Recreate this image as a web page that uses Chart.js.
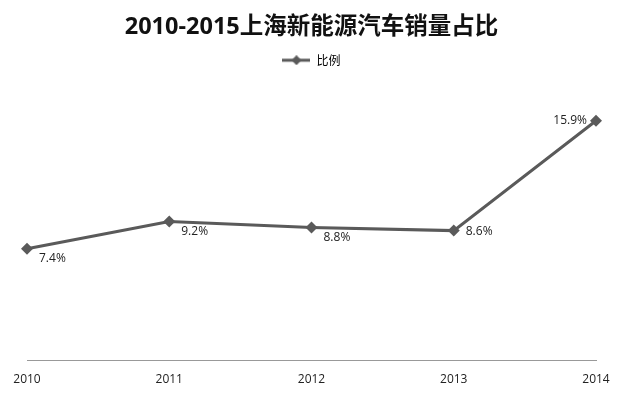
<!DOCTYPE html>
<html>
<head>
<meta charset="utf-8">
<script src="https://cdn.jsdelivr.net/npm/chart.js@4/dist/chart.umd.min.js"></script>
<style>
  html, body { margin: 0; padding: 0; background: #fff; }
  #wrap { width: 624px; height: 393px; }
</style>
</head>
<body>
<div id="wrap"><canvas id="c" width="624" height="393"></canvas></div>
<script>
const years = ["2010", "2011", "2012", "2013", "2014"];
const share = [7.4, 9.2, 8.8, 8.6, 15.9];
const seriesName = "比例";
const titleText = "2010-2015上海新能源汽车销量占比";

const lineColor = "#5a5a5a";

// legend marker: short line with a diamond in the middle
const legendIcon = document.createElement("canvas");
legendIcon.width = 28;
legendIcon.height = 10;
const ic = legendIcon.getContext("2d");
ic.strokeStyle = lineColor;
ic.lineWidth = 3;
ic.beginPath();
ic.moveTo(0, 5);
ic.lineTo(28, 5);
ic.stroke();
ic.fillStyle = lineColor;
ic.beginPath();
ic.moveTo(14, 0);
ic.lineTo(19, 5);
ic.lineTo(14, 10);
ic.lineTo(9, 5);
ic.closePath();
ic.fill();

// value labels next to each point
const valueLabels = {
  id: "valueLabels",
  afterDatasetsDraw(chart) {
    const ctx = chart.ctx;
    const meta = chart.getDatasetMeta(0);
    const vals = chart.data.datasets[0].data;
    ctx.save();
    ctx.font = "12px 'Open Sans', sans-serif";
    ctx.fillStyle = "#222";
    ctx.textBaseline = "middle";
    meta.data.forEach((pt, i) => {
      const txt = vals[i].toFixed(1) + "%";
      if (i === vals.length - 1) {
        ctx.textAlign = "right";
        ctx.fillText(txt, pt.x - 9, pt.y);
      } else if (i === vals.length - 2) {
        ctx.textAlign = "left";
        ctx.fillText(txt, pt.x + 12, pt.y + 1);
      } else {
        ctx.textAlign = "left";
        ctx.fillText(txt, pt.x + 12, pt.y + 10);
      }
    });
    ctx.restore();
  }
};

// extra room under the legend
const legendGap = {
  id: "legendGap",
  beforeInit(chart) {
    const fit = chart.legend.fit;
    chart.legend.fit = function () {
      fit.call(this);
      this.height += 13;
    };
  }
};

new Chart(document.getElementById("c").getContext("2d"), {
  type: "line",
  data: {
    labels: years,
    datasets: [{
      label: seriesName,
      data: share,
      borderColor: lineColor,
      backgroundColor: lineColor,
      borderWidth: 3,
      pointStyle: "rectRot",
      pointRadius: 6,
      pointBackgroundColor: lineColor,
      pointBorderColor: lineColor,
      pointBorderWidth: 0,
      tension: 0
    }]
  },
  options: {
    responsive: false,
    animation: false,
    layout: { padding: { left: 27, right: 28, top: 0, bottom: 0 } },
    plugins: {
      title: {
        display: true,
        text: titleText,
        color: "#111",
        font: { family: "'Open Sans', 'Noto Sans CJK SC', sans-serif", size: 23.5, weight: "bold" },
        padding: { top: 13, bottom: 3 }
      },
      legend: {
        display: true,
        labels: {
          color: "#222",
          font: { family: "'Noto Sans CJK SC', sans-serif", size: 12 },
          usePointStyle: true,
          pointStyleWidth: 28,
          boxHeight: 10,
          padding: 10,
          generateLabels() {
            return [{
              text: seriesName,
              pointStyle: legendIcon,
              fillStyle: lineColor,
              strokeStyle: lineColor,
              lineWidth: 0,
              datasetIndex: 0
            }];
          }
        }
      },
      tooltip: { enabled: false }
    },
    scales: {
      x: {
        offset: false,
        grid: { display: false, drawTicks: false },
        border: { display: true, color: "#999", width: 1 },
        ticks: {
          color: "#222",
          font: { family: "'Open Sans', sans-serif", size: 12 },
          padding: 12,
          maxRotation: 0
        },
        afterFit(scale) {
          scale.height = 33;
        }
      },
      y: {
        display: false,
        min: 0,
        max: 18
      }
    }
  },
  plugins: [valueLabels, legendGap]
});
</script>
</body>
</html>
